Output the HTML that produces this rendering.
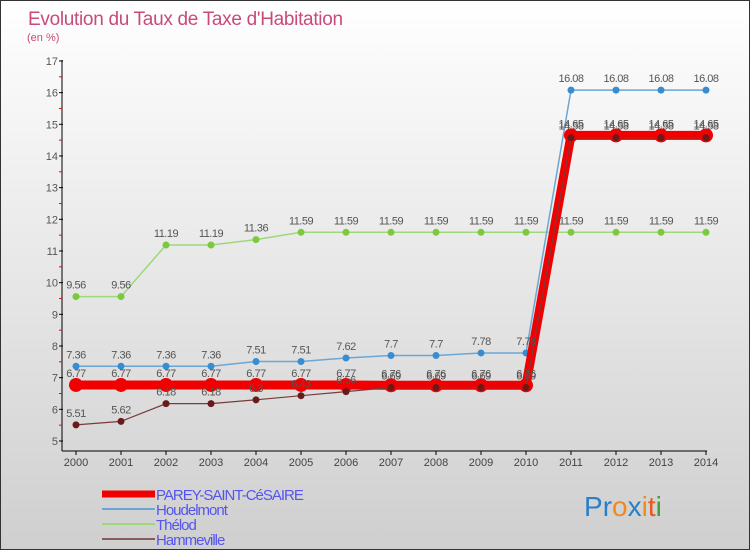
<!DOCTYPE html>
<html><head><meta charset="utf-8"><style>
body{margin:0;}
#c{width:750px;height:550px;position:relative;background:linear-gradient(#ffffff,#cfcfcf);box-sizing:border-box;border:1px solid #333;overflow:hidden;font-family:"Liberation Sans",sans-serif;}
svg{position:absolute;left:0;top:0;}
</style></head><body>
<div id="c">
<svg id="s" width="750" height="550"></svg>
</div>
<script>
const years=[2000,2001,2002,2003,2004,2005,2006,2007,2008,2009,2010,2011,2012,2013,2014];
const yTicks=[5,6,7,8,9,10,11,12,13,14,15,16,17];
const parey=[6.77,6.77,6.77,6.77,6.77,6.77,6.77,6.76,6.76,6.76,6.76,14.65,14.65,14.65,14.65];
const houdelmont=[7.36,7.36,7.36,7.36,7.51,7.51,7.62,7.7,7.7,7.78,7.78,16.08,16.08,16.08,16.08];
const thelod=[9.56,9.56,11.19,11.19,11.36,11.59,11.59,11.59,11.59,11.59,11.59,11.59,11.59,11.59,11.59];
const hammeville=[5.51,5.62,6.18,6.18,6.3,6.43,6.56,6.69,6.69,6.69,6.69,14.58,14.58,14.58,14.58];
const names=["PAREY-SAINT-CéSAIRE","Houdelmont","Thélod","Hammeville"];
const NS="http://www.w3.org/2000/svg";
const s=document.getElementById('s');
const X=i=>75+i*45;
const Y=v=>440-(v-5)*31.67;
function el(t,a,p){const e=document.createElementNS(NS,t);for(const k in a)e.setAttribute(k,a[k]);(p||s).appendChild(e);return e;}
function tx(x,y,str,a){const e=el('text',Object.assign({x:x,y:y},a));e.textContent=str;return e;}
let t=tx(27,24,"Evolution du Taux de Taxe d'Habitation",{fill:'#c84a7a','font-size':19,'letter-spacing':'-0.3'});

t=tx(26,40,"(en %)",{fill:'#c84a7a','font-size':11});

let ax=el('line',{x1:61,y1:59,x2:61,y2:450,stroke:'#000'});

ax=el('line',{x1:61,y1:450,x2:706,y2:450,stroke:'#000'});

yTicks.forEach(v=>{
 el('line',{x1:58,y1:Y(v),x2:62,y2:Y(v),stroke:'#000'});
 if(v<17) el('line',{x1:58,y1:Y(v+0.5),x2:61,y2:Y(v+0.5),stroke:'#f00'});
 const l=tx(57,Y(v)+4,String(v),{fill:'#555','font-size':11,'text-anchor':'end'});
 
});
years.forEach((y,i)=>{
 el('line',{x1:X(i),y1:450,x2:X(i),y2:454,stroke:'#000'});
 const l=tx(X(i),465,String(y),{fill:'#444','font-size':11,'text-anchor':'middle'});
 
});
function series(data,color,w,r,dot,nm){
 const g=el('g',{});
 
 el('polyline',{points:data.map((v,i)=>X(i)+','+Y(v)).join(' '),fill:'none',stroke:color,'stroke-width':w},g);
 data.forEach((v,i)=>{const c=el('circle',{cx:X(i),cy:Y(v),r:r,fill:dot},g);
  });
 return g;
}
function labels(data,nm){
 data.forEach((v,i)=>{const l=tx(X(i),Y(v)-8,String(v),{fill:'#555','font-size':11,'text-anchor':'middle','letter-spacing':'-0.5'});
  });
}
series(thelod,'#9dd97a',1.5,3.5,'#7cc83f','thelod');
series(houdelmont,'#6aa7d6',1.5,3.5,'#3a8cd0','houdelmont');
series(parey,'#f00000',9,7,'#f00000','parey');
series(hammeville,'#7a3a3a',1.2,3.5,'#6a1a1a','hammeville');
labels(thelod,'thelod');labels(houdelmont,'houdelmont');labels(parey,'parey');labels(hammeville,'hammeville');
const cols=['#f00000','#6aa7d6','#9dd97a','#8a5a5a'];const ws=[7,2,2,2];
names.forEach((n,i)=>{
 const y=493+i*15;
 const g=el('g',{});
 el('line',{x1:101,y1:y,x2:154,y2:y,stroke:cols[i],'stroke-width':ws[i]},g);
 tx(155,y+6,n,{fill:'#5555ee','font-size':15,'letter-spacing':'-1'},g);
});
const lg=el('text',{x:583,y:515,'font-size':28});

[['P','#2a7fc9'],['r','#2a7fc9'],['o','#f08a1c'],['x','#2a7fc9'],['i','#f08a1c'],['t','#e85a1c'],['i','#3aa03a']].forEach(([c,f])=>{const sp=el('tspan',{fill:f},lg);sp.textContent=c;});
</script>
</body></html>
